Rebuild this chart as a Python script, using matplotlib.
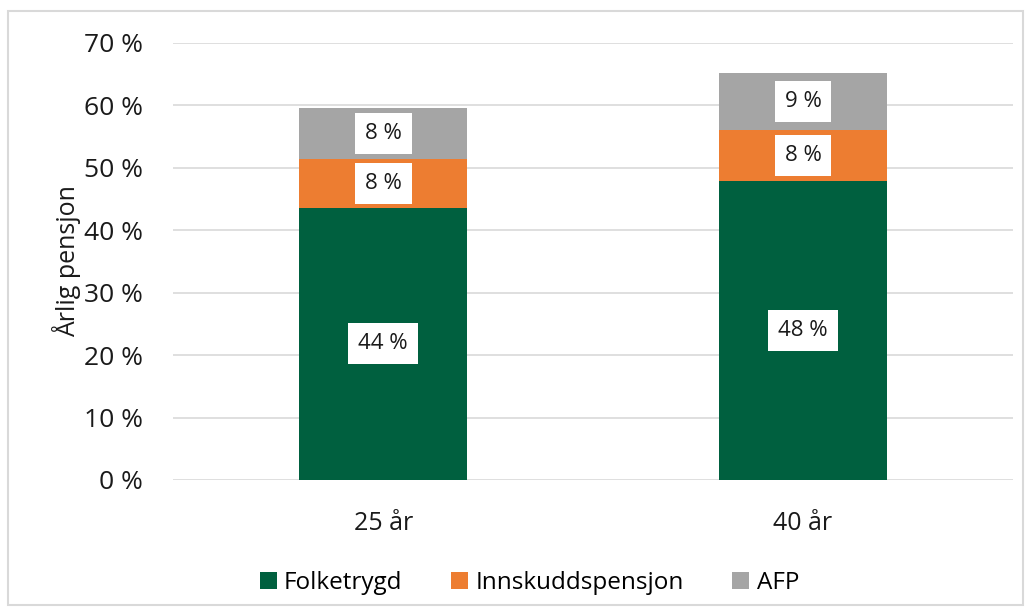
import matplotlib
matplotlib.use("Agg")
import matplotlib.pyplot as plt
from matplotlib.patches import Rectangle

plt.rcParams['font.family'] = ['Open Sans', 'DejaVu Sans']

categories = ["25 år", "40 år"]
folketrygd = [43.6, 47.9]
innskudd = [7.85, 8.17]
afp = [8.17, 9.13]
series = [("Folketrygd", folketrygd, "#00603F"),
          ("Innskuddspensjon", innskudd, "#ED7D31"),
          ("AFP", afp, "#A5A5A5")]
yticks = [0, 10, 20, 30, 40, 50, 60, 70]

fig = plt.figure(figsize=(10.31, 6.13), dpi=100)
ax = fig.add_axes([0.168, 0.217, 0.8145, 0.713])

# light frame round the whole chart
fig.patches.append(Rectangle((8 / 1031, 8 / 613), 1015 / 1031, 594 / 613,
                             transform=fig.transFigure, fill=False,
                             edgecolor="#D9D9D9", linewidth=1.5))

x = list(range(len(categories)))
bottom = [0.0] * len(categories)
for name, vals, col in series:
    ax.bar(x, vals, width=0.4, bottom=bottom, color=col, label=name, zorder=3)
    for xi, b, v in zip(x, bottom, vals):
        ax.text(xi, b + v / 2, f"{round(v)} %", ha="center", va="center",
                fontsize=16, color="#1a1a1a", zorder=4,
                bbox=dict(boxstyle="square,pad=0.45", fc="white", ec="none"))
    bottom = [b + v for b, v in zip(bottom, vals)]

ax.set_xlim(-0.5, 1.5)
ax.set_ylim(0, 70)
ax.set_yticks(yticks)
ax.set_yticklabels([f"{t} %" for t in yticks])
ax.set_xticks(x)
ax.set_xticklabels(categories)
ax.tick_params(axis="y", length=0, pad=22, labelsize=19, labelcolor="#1a1a1a")
ax.tick_params(axis="x", length=0, pad=22, labelsize=18, labelcolor="#1a1a1a")
ax.grid(axis="y", color="#D9D9D9", linewidth=1.2, zorder=0)
for s in ax.spines.values():
    s.set_visible(False)
ax.set_ylabel("Årlig pensjon", fontsize=18, color="#1a1a1a", labelpad=2)

ax.legend(loc="center", bbox_to_anchor=(0.424, -0.236), ncol=3, frameon=False,
          fontsize=17.5, handlelength=0.7, handleheight=0.7, handletextpad=0.3,
          columnspacing=2.0)

fig.savefig("out.png", dpi=100)
